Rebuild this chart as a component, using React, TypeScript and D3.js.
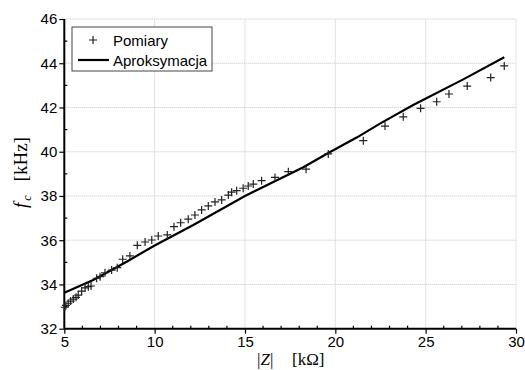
import React, { useEffect, useRef } from "react";
import * as d3 from "d3";

// measured points (|Z| in kOhm, f_c in kHz)
const zMeas = [
  5.03, 5.09, 5.22, 5.35, 5.5, 5.65, 5.77, 5.96, 6.15, 6.33, 6.48, 6.79, 6.98,
  7.25, 7.62, 7.93, 8.23, 8.63, 9.04, 9.47, 9.84, 10.2, 10.7, 11.07, 11.44,
  11.86, 12.23, 12.6, 12.97, 13.34, 13.71, 14.08, 14.26, 14.54, 14.9, 15.18,
  15.46, 15.92, 16.66, 17.4, 18.38, 19.61, 21.55, 22.75, 23.76, 24.72, 25.61,
  26.29, 27.3, 28.6, 29.35,
];
const fMeas = [
  32.97, 33.05, 33.15, 33.25, 33.34, 33.42, 33.52, 33.7, 33.85, 33.9, 33.93,
  34.28, 34.35, 34.53, 34.65, 34.76, 35.14, 35.29, 35.77, 35.92, 36.01, 36.19,
  36.24, 36.61, 36.79, 36.95, 37.14, 37.37, 37.55, 37.73, 37.82, 38.04, 38.17,
  38.24, 38.35, 38.45, 38.54, 38.69, 38.84, 39.1, 39.21, 39.9, 40.5, 41.16,
  41.58, 41.96, 42.26, 42.61, 42.97, 43.35, 43.88,
];

// approximation curve
const zFit = [5.0, 6.6, 8.45, 10.0, 12.14, 15.0, 18.23, 19.61, 21.18, 22.47, 24.31, 27.08, 29.35];
const fFit = [33.62, 34.2, 35.03, 35.76, 36.69, 38.0, 39.3, 39.94, 40.64, 41.27, 42.11, 43.27, 44.27];

const xTicks = [5, 10, 15, 20, 25, 30];
const yTicks = [32, 34, 36, 38, 40, 42, 44, 46];
const xMinor = d3.range(5, 31, 1);
const yMinor = d3.range(32, 47, 1);

const W = 525;
const H = 370;

export default function App() {
  const svgRef = useRef<SVGSVGElement | null>(null);

  useEffect(() => {
    const svg = d3.select(svgRef.current);
    svg.selectAll("*").remove();

    const x = d3.scaleLinear().domain([5, 30]).range([64.3, 516]);
    const y = d3.scaleLinear().domain([32, 46]).range([328.7, 19]);
    const sans = "'Liberation Sans', Arial, sans-serif";
    const serif = "'Liberation Serif', 'Times New Roman', serif";

    svg.append("rect").attr("width", W).attr("height", H).attr("fill", "white");

    // grid
    const grid = svg.append("g").attr("stroke", "#b8b8b8").attr("stroke-width", 0.8).attr("stroke-dasharray", "1,1");
    xTicks.slice(1).forEach((t) =>
      grid.append("line").attr("x1", x(t)).attr("x2", x(t)).attr("y1", y(32)).attr("y2", y(46))
    );
    yTicks.slice(1).forEach((t) =>
      grid.append("line").attr("x1", x(5)).attr("x2", x(30)).attr("y1", y(t)).attr("y2", y(t))
    );

    // minor ticks (inward)
    const minor = svg.append("g").attr("stroke", "#000").attr("stroke-width", 1.2);
    xMinor.filter((t) => t % 5 !== 0).forEach((t) =>
      minor.append("line").attr("x1", x(t)).attr("x2", x(t)).attr("y1", y(32)).attr("y2", y(32) - 3)
    );
    yMinor.filter((t) => t % 2 !== 0).forEach((t) =>
      minor.append("line").attr("x1", x(5)).attr("x2", x(5) + 3).attr("y1", y(t)).attr("y2", y(t))
    );

    // axes
    const xAxis = d3.axisBottom(x).tickValues(xTicks).tickSize(5).tickPadding(3).tickFormat(d3.format("d"));
    const yAxis = d3.axisLeft(y).tickValues(yTicks).tickSize(5).tickPadding(2).tickFormat(d3.format("d"));

    svg
      .append("g")
      .attr("transform", `translate(0,${y(32)})`)
      .call(xAxis)
      .call((g) => g.select(".domain").attr("stroke-width", 2).attr("d", `M${x(5)},0H${x(30)}`))
      .call((g) => g.selectAll(".tick line").attr("stroke-width", 1.2))
      .call((g) => g.selectAll(".tick text").attr("font-family", sans).attr("font-size", 15).attr("fill", "#000"));

    svg
      .append("g")
      .attr("transform", `translate(${x(5)},0)`)
      .call(yAxis)
      .call((g) => g.select(".domain").attr("stroke-width", 2).attr("d", `M0,${y(32)}V${y(46)}`))
      .call((g) => g.selectAll(".tick line").attr("stroke-width", 1.2))
      .call((g) => g.selectAll(".tick text").attr("font-family", sans).attr("font-size", 15).attr("fill", "#000"));

    // fit line
    const fitData = zFit.map((z, i) => [z, fFit[i]] as [number, number]);
    const line = d3
      .line<[number, number]>()
      .x((d) => x(d[0]))
      .y((d) => y(d[1]));
    svg
      .append("path")
      .datum(fitData)
      .attr("d", line)
      .attr("fill", "none")
      .attr("stroke", "#000")
      .attr("stroke-width", 2.2);

    // measured points
    const s = 4;
    const pts = svg.append("g").attr("stroke", "#222").attr("stroke-width", 1.2);
    zMeas.forEach((z, i) => {
      const px = x(z);
      const py = y(fMeas[i]);
      pts.append("path").attr("d", `M${px - s},${py}H${px + s}M${px},${py - s}V${py + s}`);
    });

    // legend
    const lg = svg.append("g");
    lg.append("rect")
      .attr("x", 72)
      .attr("y", 27)
      .attr("width", 140)
      .attr("height", 44)
      .attr("fill", "white")
      .attr("stroke", "#444")
      .attr("stroke-width", 1);
    lg.append("path")
      .attr("d", `M${93 - s},40H${93 + s}M93,${40 - s}V${40 + s}`)
      .attr("stroke", "#222")
      .attr("stroke-width", 1.2);
    lg.append("line").attr("x1", 78).attr("x2", 109).attr("y1", 60).attr("y2", 60).attr("stroke", "#000").attr("stroke-width", 2.2);
    lg.append("text").attr("x", 113).attr("y", 45.5).attr("font-family", sans).attr("font-size", 15).text("Pomiary");
    lg.append("text").attr("x", 113).attr("y", 65.5).attr("font-family", sans).attr("font-size", 15).text("Aproksymacja");

    // axis titles
    const xt = svg.append("text").attr("x", 257).attr("y", 365).attr("font-family", serif).attr("font-size", 17);
    xt.append("tspan").text("|");
    xt.append("tspan").attr("font-style", "italic").text("Z");
    xt.append("tspan").text("|");
    xt.append("tspan").attr("x", 292).text("[kΩ]");

    const yt = svg
      .append("text")
      .attr("transform", `translate(27,208) rotate(-90)`)
      .attr("font-family", serif)
      .attr("font-size", 19);
    yt.append("tspan").attr("font-style", "italic").text("f");
    yt.append("tspan").attr("font-style", "italic").attr("font-size", 12).attr("dy", 4).attr("dx", 2).text("c");
    yt.append("tspan").attr("dy", -4).attr("dx", 14).text("[kHz]");
  }, []);

  return (
    <svg
      ref={svgRef}
      width={W}
      height={H}
      style={{ position: "absolute", left: 0, top: 0 }}
    />
  );
}
